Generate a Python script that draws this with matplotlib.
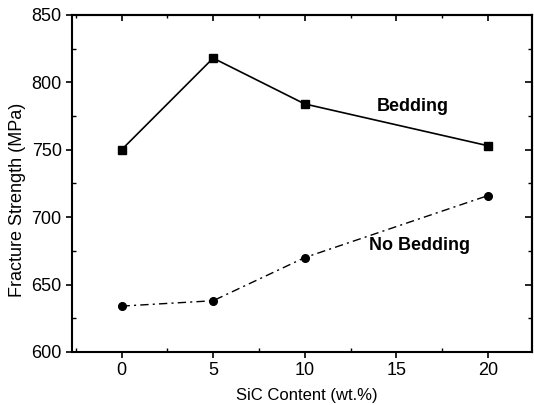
import matplotlib.pyplot as plt
from matplotlib.ticker import MultipleLocator

plt.rcParams['font.family'] = ['Liberation Sans', 'DejaVu Sans']

sic = [0, 5, 10, 20]
bedding = [750, 818, 784, 753]
no_bedding = [634, 638, 670, 716]

fig = plt.figure(figsize=(5.34, 4.05), dpi=100)
ax = fig.add_axes([0.135, 0.131, 0.861, 0.832])

ax.plot(sic, bedding, color='black', lw=1.2, marker='s', ms=6)
ax.plot(sic, no_bedding, color='black', lw=1.0, marker='o', ms=5.5,
        dashes=[6, 3, 1.5, 3])

ax.text(15.9, 782, 'Bedding', fontsize=13, fontweight='bold', ha='center', va='center')
ax.text(16.25, 679, 'No Bedding', fontsize=13, fontweight='bold', ha='center', va='center')

ax.set_xlim(-2.7, 22.4)
ax.set_ylim(600, 850)
ax.xaxis.set_major_locator(MultipleLocator(5))
ax.xaxis.set_minor_locator(MultipleLocator(2.5))
ax.yaxis.set_major_locator(MultipleLocator(50))
ax.yaxis.set_minor_locator(MultipleLocator(25))

ax.tick_params(which='major', direction='out', length=4, width=1.2, labelsize=13,
               top=False, right=False)
ax.tick_params(which='minor', direction='in', length=3, width=1, top=False, right=False)

# mirrored ticks on top and right, pointing inward
axt = ax.secondary_xaxis('top')
axt.xaxis.set_major_locator(MultipleLocator(5))
axt.xaxis.set_minor_locator(MultipleLocator(2.5))
axt.tick_params(which='major', direction='in', length=4, width=1.2, labeltop=False)
axt.tick_params(which='minor', direction='in', length=2.5, width=1)
axr = ax.secondary_yaxis('right')
axr.yaxis.set_major_locator(MultipleLocator(50))
axr.yaxis.set_minor_locator(MultipleLocator(25))
axr.tick_params(which='major', direction='in', length=5, width=1.2, labelright=False)
axr.tick_params(which='minor', direction='in', length=3, width=1)

for s in ax.spines.values():
    s.set_linewidth(1.5)
axt.spines['top'].set_linewidth(1.5)
axr.spines['right'].set_linewidth(1.5)

ax.set_xlabel('SiC Content (wt.%)', fontsize=12)
ax.set_ylabel('Fracture Strength (MPa)', fontsize=13)
ax.xaxis.set_label_coords(0.511, -0.108)
ax.yaxis.set_label_coords(-0.100, 0.45)

fig.savefig('out.png', dpi=100)
